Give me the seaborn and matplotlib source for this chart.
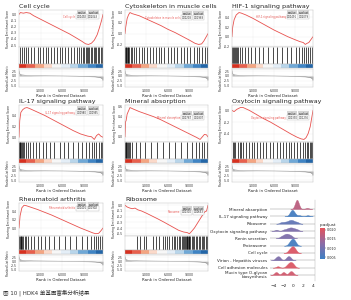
import matplotlib
matplotlib.use('Agg')
import matplotlib.pyplot as plt
import numpy as np
import pandas as pd
import seaborn as sns
from matplotlib.colors import LinearSegmentedColormap, Normalize
from matplotlib.cm import ScalarMappable
from matplotlib.ticker import FuncFormatter, FormatStrFormatter

# ---- data ----

# running enrichment score curves (rank, ES) and hit positions
cc_rank = [0, 200, 600, 1000, 1500, 2000, 3000, 4000, 5000, 6000, 7000, 8000,
           8700, 9200, 9600, 10000, 10400, 10800, 11100, 11400, 11600]
cc_es = [0.0, 0.03, 0.02, 0.03, 0.02, -0.02, -0.08, -0.14, -0.2, -0.26, -0.32,
         -0.39, -0.44, -0.48, -0.49, -0.47, -0.42, -0.33, -0.22, -0.1, 0.0]
cc_hits = [150, 400, 700, 900, 1300, 1700, 2100, 2600, 2900, 3300, 3700, 4000,
           4400, 4800, 5200, 5600, 5900, 6300, 6800, 7200, 7600, 8000, 8300,
           8600, 8800, 9000, 9200, 9400, 9500, 9700, 9900, 10100, 10300, 10500,
           10700, 10900, 11100, 11300, 11500]

cy_rank = [0, 100, 300, 500, 700, 1000, 2000, 3000, 4000, 5000, 6000, 7000,
           8000, 9000, 9800, 10300, 10700, 11000, 11300, 11600]
cy_es = [0.0, 0.12, 0.28, 0.35, 0.39, 0.37, 0.33, 0.27, 0.21, 0.15, 0.08, 0.02,
         -0.05, -0.12, -0.18, -0.2, -0.19, -0.14, -0.07, 0.0]
cy_hits = [50, 120, 200, 300, 380, 450, 600, 800, 1000, 1300, 1600, 2000, 2400,
           2700, 3100, 3500, 3900, 4300, 4700, 5100, 5500, 6000, 6400, 6900,
           7300, 7800, 8200, 8700, 9100, 9600, 10000, 10400, 10800, 11200, 11500]

hif_rank = [0, 100, 300, 600, 1000, 1300, 2000, 3000, 4000, 5000, 6000, 7000,
            8000, 9000, 9700, 10200, 10500, 10700, 11000, 11300, 11600]
hif_es = [0.0, 0.2, 0.35, 0.45, 0.5, 0.49, 0.45, 0.38, 0.3, 0.22, 0.14, 0.07,
          0.0, -0.06, -0.1, -0.12, -0.16, -0.14, -0.12, -0.06, 0.0]
hif_hits = [60, 150, 250, 400, 550, 700, 900, 1100, 1400, 1800, 2300, 2700,
            3300, 3800, 4500, 5200, 5800, 6500, 7200, 7900, 8500, 9100, 9600,
            10000, 10300, 10600, 10900, 11200, 11500]

il_rank = [0, 100, 250, 500, 800, 1100, 1500, 2500, 3500, 4500, 5500, 6500,
           7500, 8500, 9500, 10000, 10400, 10700, 11000, 11300, 11600]
il_es = [0.0, 0.3, 0.45, 0.5, 0.53, 0.54, 0.52, 0.46, 0.4, 0.33, 0.26, 0.19,
         0.12, 0.06, 0.02, 0.01, -0.04, 0.03, 0.06, 0.02, 0.0]
il_hits = [40, 100, 180, 260, 350, 500, 700, 900, 1200, 1500, 1900, 2300, 2800,
           3300, 3700, 4300, 4900, 5600, 6200, 6800, 7500, 8100, 8700, 9200,
           9700, 10100, 10400, 10700, 11000, 11300, 11500]

mi_rank = [0, 80, 150, 300, 450, 700, 1000, 2000, 3000, 4000, 5000, 6000, 7000,
           8000, 9000, 10000, 10500, 10800, 11100, 11400, 11600]
mi_es = [0.0, 0.3, 0.32, 0.45, 0.5, 0.58, 0.56, 0.5, 0.45, 0.4, 0.34, 0.27, 0.2,
         0.13, 0.06, -0.01, -0.05, 0.0, 0.05, 0.04, 0.0]
mi_hits = [30, 80, 150, 250, 350, 500, 700, 1000, 1500, 2100, 2800, 3600, 4500,
           5300, 6200, 7000, 7800, 8600, 9300, 9900, 10300, 10700, 11100, 11400]

ox_rank = [0, 300, 700, 1200, 1600, 2500, 3500, 4500, 5500, 6500, 7500, 8500,
           9300, 9900, 10300, 10600, 10900, 11200, 11400, 11600]
ox_es = [0.0, -0.02, 0.02, 0.05, 0.05, 0.0, -0.07, -0.14, -0.2, -0.27, -0.34,
         -0.41, -0.46, -0.49, -0.5, -0.47, -0.4, -0.28, -0.14, 0.0]
ox_hits = [100, 300, 500, 800, 1100, 1300, 1600, 2000, 2400, 2800, 3200, 3600,
           4000, 4400, 4900, 5400, 5900, 6400, 6900, 7300, 7700, 8100, 8500,
           8900, 9300, 9700, 10100, 10400, 10700, 10900, 11100, 11300, 11450,
           11550]

ra_rank = [0, 150, 400, 700, 1000, 1500, 2500, 3500, 4500, 5500, 6500, 7500,
           8500, 9500, 10200, 10600, 11000, 11300, 11600]
ra_es = [0.0, 0.3, 0.5, 0.56, 0.55, 0.52, 0.46, 0.39, 0.32, 0.24, 0.16, 0.08,
         0.0, -0.07, -0.12, -0.14, -0.13, -0.07, 0.0]
ra_hits = [50, 120, 220, 320, 450, 600, 800, 1000, 1300, 1700, 2100, 2600,
           3100, 3600, 4200, 4800, 5500, 6300, 7100, 7900, 8700, 9400, 9900,
           10300, 10600, 10900, 11200, 11500]

rb_rank = [0, 300, 700, 1000, 1400, 1800, 2300, 3000, 3800, 4600, 5500, 6500,
           7500, 8200, 8700, 9000, 9300, 9700, 10200, 10700, 11100, 11400, 11600]
rb_es = [0.0, -0.03, -0.05, -0.06, -0.05, -0.08, -0.1, -0.14, -0.19, -0.24,
         -0.3, -0.37, -0.44, -0.47, -0.48, -0.5, -0.46, -0.4, -0.3, -0.2,
         -0.12, -0.1, 0.0]
rb_hits = [1700, 2100, 2600, 3000, 3900, 4400, 4800, 5300, 5600, 5900, 6200,
           6500, 6800, 7000, 7300, 7500, 7700, 7900, 8100, 8300, 8400, 8500,
           8600, 8700, 8800, 8900, 9000, 9100, 9300, 9500, 9700, 9900, 10100,
           10300, 10500, 10700, 10900, 11100, 11300, 11500]

panel_names = ['Cell cycle', 'Cytoskeleton in muscle cells',
               'HIF-1 signaling pathway', 'IL-17 signaling pathway',
               'Mineral absorption', 'Oxytocin signaling pathway',
               'Rheumatoid arthritis', 'Ribosome']
panel_pvalue = ['0.00492', '0.00208', '0.00491', '0.00980', '0.00787',
                '0.00390', '0.00401', '0.00300']
panel_padj = ['0.02043', '0.01988', '0.02079', '0.00995', '0.01807',
              '0.01296', '0.01902', '0.00653']

# ranked list metric (shared gene list)
metric_rank = [0, 50, 150, 400, 1000, 2000, 4000, 6000, 8000, 9500, 10500,
               11000, 11300, 11500, 11600]
metric_value = [3.0, 1.6, 1.0, 0.6, 0.35, 0.2, 0.08, 0.0, -0.1, -0.25, -0.45,
                -0.7, -1.0, -1.6, -2.5]
strip_edges = [0, 1000, 2200, 3400, 4500, 5800, 7000, 8200, 9500, 10600, 11600]
strip_colors = ['#D7301F', '#E8604D', '#F4A582', '#FBD9C9', '#F7F7F7',
                '#E4EEF7', '#B8D5EA', '#6FA8D6', '#3F84C4', '#2366A8']

# ridge plot: core-gene fold changes per pathway
ridge_names = ['Mineral absorption', 'IL-17 signaling pathway', 'Ribosome',
               'Oxytocin signaling pathway', 'Renin secretion', 'Proteasome',
               'Cell cycle', 'Virion - Hepatitis viruses',
               'Cell adhesion molecules', 'Mucin type O-glycan\nbiosynthesis']
ridge_padj = [0.017, 0.005, 0.008, 0.011, 0.011, 0.005, 0.020, 0.011, 0.020,
              0.019]
ridge_vals = [
    [0.4, 0.5, 0.6, 0.65, 0.7, 0.75, 0.8, 0.9, 1.0, 2.8],
    [-0.8, -0.5, -0.4, -0.3, -0.2, -0.1, 0.1, 0.4, 1.2, 2.9],
    [-2.5, -1.8, -1.2, -0.8, -0.5, -0.2, 0.2, 0.8],
    [-3.5, -2.0, -1.4, -1.0, -0.7, -0.4, -0.1, 0.3, 0.8],
    [-2.6, -2.1, -1.8, -1.5, -1.3, -1.0, -0.7, -0.3],
    [-0.9, -0.6, -0.4, -0.25, -0.1, 0.05, 0.2, 0.5],
    [-1.0, -0.7, -0.4, -0.3, -0.1, 0.0, 0.2, 0.5],
    [-3.6, -3.3, -3.0, -2.8, -1.4, -1.1, -0.9, -0.6],
    [-3.2, -1.4, -1.0, -0.8, -0.6, -0.4, -0.2, 0.1],
    [-3.7, -3.4, -2.2, -1.9, -0.8, -0.5, -0.2],
]

caption = '图 10 | HDK4 单基因富集分析结果'

# ---- layout ----

W, H = 351, 300
ES_RED = '#E8514E'


def px(x0, y0, x1, y1):
    return [x0 / W, 1 - y1 / H, (x1 - x0) / W, (y1 - y0) / H]


sns.set_theme(style='white')
plt.rcParams['font.family'] = ['DejaVu Sans', 'Noto Sans CJK SC']
plt.rcParams['axes.linewidth'] = 0.3

fig = plt.figure(figsize=(W / 100, H / 100), dpi=100)

col_x = [(19, 103), (125, 208), (232, 313)]
row_es = [(10, 47), (105, 142), (203, 236)]
row_hit = [(47, 64), (142, 159), (236, 250)]
row_strip = [(64, 68), (159, 163), (250, 254)]
row_metric = [(69, 87), (164, 182), (255, 271)]

panel_data = [(cc_rank, cc_es, cc_hits), (cy_rank, cy_es, cy_hits),
              (hif_rank, hif_es, hif_hits), (il_rank, il_es, il_hits),
              (mi_rank, mi_es, mi_hits), (ox_rank, ox_es, ox_hits),
              (ra_rank, ra_es, ra_hits), (rb_rank, rb_es, rb_hits)]
panel_yticks = [[0.0, -0.1, -0.2, -0.3, -0.4, -0.5], [0.4, 0.2, 0.0, -0.2],
                [0.4, 0.2, 0.0, -0.2], [0.4, 0.2, 0.0],
                [0.6, 0.4, 0.2, 0.0], [0.0, -0.2, -0.4],
                [0.4, 0.2, 0.0], [0.0, -0.1, -0.2, -0.3, -0.4, -0.5]]
legend_y = [0.92, 0.89, 0.92, 0.89, 0.76, 0.76, 0.94, 0.82]

NMAX = 11600
rank_fmt = FuncFormatter(lambda v, p: f'{int(v):,}')


def style_axis(ax):
    ax.set_xlim(0, NMAX)
    ax.set_xticks([3000, 6000, 9000])
    ax.tick_params(length=1, width=0.3, labelsize=2.2, pad=0.6)
    for s in ax.spines.values():
        s.set_color('#bbbbbb')
        s.set_linewidth(0.3)
    ax.grid(True, color='#ececec', linewidth=0.3)


for k, name in enumerate(panel_names):
    r, c = divmod(k, 3)
    x0, x1 = col_x[c]
    rank, es, hits = panel_data[k]

    # running enrichment score
    ax = fig.add_axes(px(x0, row_es[r][0], x1, row_es[r][1]))
    sns.lineplot(x=rank, y=es, ax=ax, color=ES_RED, linewidth=0.6)
    style_axis(ax)
    lo, hi = min(es), max(es)
    pad = (hi - lo) * 0.08
    ax.set_ylim(lo - pad, hi + pad)
    ax.set_yticks(panel_yticks[k])
    ax.yaxis.set_major_formatter(FormatStrFormatter('%.1f'))
    ax.set_xticklabels([])
    ax.set_xlabel('')
    ax.set_ylabel('Running Enrichment Score', fontsize=2.1, labelpad=0.8)
    ax.set_title(name, loc='left', fontsize=4.6, pad=1.5, color='#222222')

    # pvalue / p.adjust table
    ly = legend_y[k]
    hdr = dict(boxstyle='square,pad=0.25', fc='#d4d4d4', ec='none')
    cell = dict(boxstyle='square,pad=0.25', fc='white', ec='#999999', lw=0.2)
    ax.text(0.745, ly, 'pvalue', transform=ax.transAxes, fontsize=1.8,
            ha='center', va='center', bbox=hdr)
    ax.text(0.885, ly, 'p.adjust', transform=ax.transAxes, fontsize=1.8,
            ha='center', va='center', bbox=hdr)
    ax.text(0.745, ly - 0.1, panel_pvalue[k], transform=ax.transAxes,
            fontsize=1.8, ha='center', va='center', bbox=cell)
    ax.text(0.885, ly - 0.1, panel_padj[k], transform=ax.transAxes,
            fontsize=1.8, ha='center', va='center', bbox=cell)
    ax.text(0.67, ly - 0.1, name, transform=ax.transAxes, fontsize=1.8,
            ha='right', va='center', color=ES_RED)

    # hits
    axh = fig.add_axes(px(x0, row_hit[r][0], x1, row_hit[r][1]))
    axh.vlines(hits, 0, 1, color='black', linewidth=0.5)
    style_axis(axh)
    axh.grid(False)
    axh.set_ylim(0, 1)
    axh.set_yticks([])
    axh.set_xticks([])

    # colour strip
    axs = fig.add_axes(px(x0, row_strip[r][0], x1, row_strip[r][1]))
    for i, col in enumerate(strip_colors):
        axs.axvspan(strip_edges[i], strip_edges[i + 1], color=col, lw=0)
    style_axis(axs)
    axs.grid(False)
    axs.set_yticks([])
    axs.set_xticks([])

    # ranked list metric
    axm = fig.add_axes(px(x0, row_metric[r][0], x1, row_metric[r][1]))
    axm.fill_between(metric_rank, metric_value, 0, color='#b5b5b5', lw=0)
    sns.lineplot(x=metric_rank, y=metric_value, ax=axm, color='#888888',
                 linewidth=0.3)
    style_axis(axm)
    axm.set_ylim(-6.0, 3.8)
    axm.set_yticks([2.5, 0.0, -2.5, -5.0])
    axm.yaxis.set_major_formatter(FormatStrFormatter('%.1f'))
    axm.xaxis.set_major_formatter(rank_fmt)
    axm.set_ylabel('Ranked List Metric', fontsize=2.1, labelpad=0.8)
    axm.set_xlabel('Rank in Ordered Dataset', fontsize=2.9, labelpad=0.6)

# ---- ridge plot ----
cmap = LinearSegmentedColormap.from_list('padj', ['#3C7FC4', '#8C6BA6', '#E5535B'])
norm = Normalize(vmin=0.004, vmax=0.021)

xlo, xhi = -4.8, 4.4
ax_r = fig.add_axes(px(270, 200, 315, 281))
ax_r.set_xlim(xlo, xhi)
ax_r.set_ylim(-0.82, 10.23)
bases = [9 - i for i in range(len(ridge_names))]
ax_r.hlines(bases, xlo, xhi, color='#9a9a9a', linewidth=0.35, zorder=1)
ax_r.set_yticks(bases)
ax_r.set_yticklabels(ridge_names, fontsize=2.95, linespacing=1.0)
ax_r.set_xticks([-4, -2, 0, 2, 4])
ax_r.tick_params(axis='x', labelsize=3.2, length=1, width=0.3, pad=1)
ax_r.tick_params(axis='y', length=1, width=0.3, pad=1)
for s in ['top', 'left', 'bottom']:
    ax_r.spines[s].set_visible(False)
ax_r.spines['right'].set_color('#aaaaaa')

for i, vals in enumerate(ridge_vals):
    iax = ax_r.inset_axes([xlo, bases[i], xhi - xlo, 2.5],
                          transform=ax_r.transData, zorder=3 + i)
    bw = 0.35 / np.std(vals, ddof=1)
    sns.kdeplot(x=vals, ax=iax, fill=True, color=cmap(norm(ridge_padj[i])),
                alpha=0.95, linewidth=0.25, bw_method=bw)
    iax.set_xlim(xlo, xhi)
    iax.set_ylim(0, 1.8)
    iax.set_xticks([])
    iax.set_yticks([])
    iax.set_xlabel('')
    iax.set_ylabel('')
    iax.axis('off')
    iax.patch.set_alpha(0)

cax = fig.add_axes(px(320, 228, 325, 259))
cb = fig.colorbar(ScalarMappable(norm=norm, cmap=cmap), cax=cax)
cb.set_ticks([0.005, 0.010, 0.015, 0.020])
cb.ax.yaxis.set_major_formatter(FormatStrFormatter('%.3f'))
cb.ax.tick_params(labelsize=2.4, length=0.8, width=0.3, pad=0.8)
cb.outline.set_visible(False)
cax.set_title('p.adjust', fontsize=3.0, pad=1.5, loc='left')

fig.text(3 / W, 1 - 293 / H, caption, fontsize=4.0, color='#333333',
         va='center', family=['DejaVu Sans', 'Noto Sans CJK SC'])

fig.savefig('out.png', dpi=100)
